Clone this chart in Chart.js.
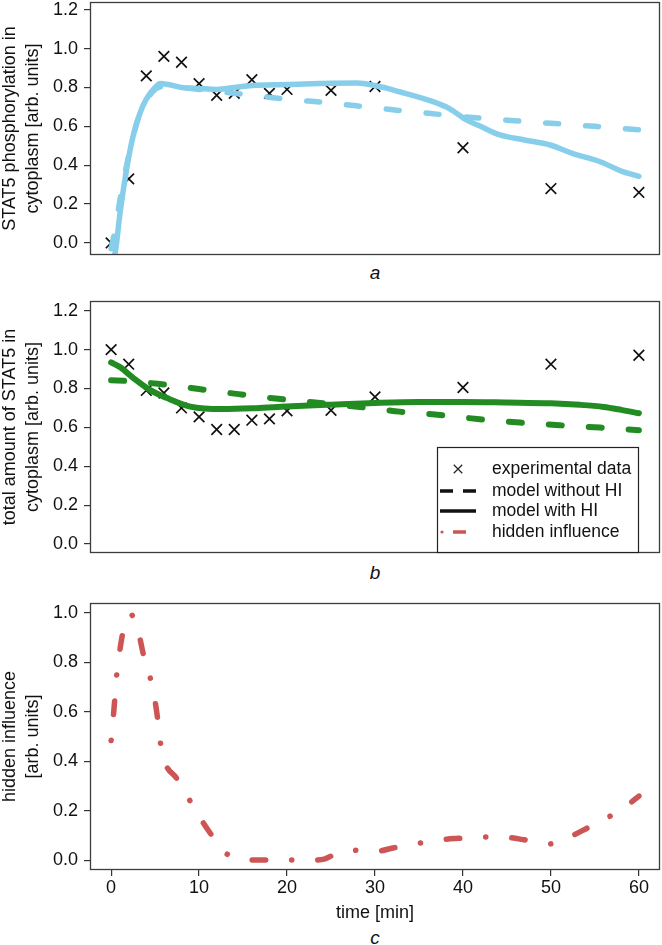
<!DOCTYPE html>
<html>
<head>
<meta charset="utf-8">
<script src="https://cdn.jsdelivr.net/npm/chart.js@4.4.1/dist/chart.umd.min.js"></script>
<style>
  body { margin: 0; background: #fff; width: 662px; height: 945px; position: relative; overflow: hidden;
         font-family: "Liberation Sans", Arial, sans-serif; }
  canvas { position: absolute; left: 0; }
  .cap { position: absolute; left: 325px; width: 100px; text-align: center; font-style: italic;
         font-size: 19px; line-height: 20px; color: #111; }
</style>
</head>
<body>
<canvas id="chartA" width="662" height="258" style="top:0"></canvas>
<div class="cap" style="top:263px">a</div>
<canvas id="chartB" width="662" height="266" style="top:290px"></canvas>
<div class="cap" style="top:563px">b</div>
<canvas id="chartC" width="662" height="335" style="top:590px"></canvas>
<div class="cap" style="top:928px">c</div>
<script>
// experimental time points [min]
const expTimes = [0, 2, 4, 6, 8, 10, 12, 14, 16, 18, 20, 25, 30, 40, 50, 60];
// a: STAT5 phosphorylation in cytoplasm
const phosExp = [0.0, 0.33, 0.86, 0.96, 0.93, 0.82, 0.76, 0.77, 0.84, 0.77, 0.79, 0.785, 0.805, 0.49, 0.28, 0.26];
const phosNoHITimes = [0, 0.5, 1, 2, 3, 4, 5, 6, 8, 10, 12, 14, 16, 20, 25, 30, 35, 40, 45, 50, 55, 60];
const phosNoHI = [-0.03, 0.08, 0.22, 0.45, 0.63, 0.73, 0.79, 0.805, 0.80, 0.79, 0.78, 0.77, 0.76, 0.74, 0.72, 0.695, 0.672, 0.65, 0.632, 0.616, 0.60, 0.582];
const phosHITimes = [0, 0.5, 1, 1.8, 2.5, 3.3, 4, 5, 5.6, 6.5, 8, 10, 12, 14, 16, 20, 25, 28, 30, 32.8, 36.6, 38.5, 40.4, 42, 44.2, 47, 49.9, 52.5, 55.6, 58, 60];
const phosHI = [-0.1, -0.04, 0.15, 0.39, 0.55, 0.67, 0.74, 0.80, 0.82, 0.815, 0.80, 0.795, 0.79, 0.80, 0.81, 0.815, 0.822, 0.823, 0.81, 0.778, 0.727, 0.69, 0.633, 0.60, 0.556, 0.53, 0.504, 0.46, 0.418, 0.37, 0.343];
// b: total amount of STAT5 in cytoplasm
const totExp = [1.0, 0.925, 0.79, 0.777, 0.70, 0.654, 0.589, 0.589, 0.637, 0.644, 0.685, 0.688, 0.757, 0.805, 0.925, 0.971];
const totNoHITimes = [0, 2, 4, 5.3, 8, 10, 14.5, 19, 25, 30, 32.8, 37.4, 41.9, 46.5, 51, 55.6, 60];
const totNoHI = [0.842, 0.838, 0.83, 0.824, 0.81, 0.797, 0.771, 0.747, 0.72, 0.696, 0.681, 0.664, 0.642, 0.625, 0.611, 0.599, 0.585];
const totHITimes = [0, 1, 2.5, 4.4, 6.3, 9, 12.7, 16.5, 19.9, 25, 30, 35, 40, 45, 50, 53.3, 56, 58, 60];
const totHI = [0.934, 0.91, 0.855, 0.793, 0.752, 0.707, 0.694, 0.699, 0.707, 0.717, 0.726, 0.731, 0.731, 0.728, 0.724, 0.716, 0.705, 0.69, 0.673];
// c: hidden influence
const hiTimes = [0, 0.3, 0.64, 1.0, 1.4, 2.2, 3.2, 3.7, 4.35, 4.9, 5.25, 5.5, 6.1, 7.4, 8.75, 10.1, 11.35, 12.95, 14, 15.2, 17.5, 20, 22.8, 24.2, 25, 27.4, 30, 32.2, 34.8, 37.4, 39.6, 42.2, 44.9, 47, 49.7, 52.3, 54.2, 56.6, 58.8, 60];
const hiValues = [0.484, 0.60, 0.75, 0.85, 0.93, 0.995, 0.907, 0.827, 0.751, 0.662, 0.582, 0.50, 0.398, 0.333, 0.253, 0.172, 0.105, 0.031, 0.01, 0.002, 0, 0, 0, 0.004, 0.016, 0.04, 0.035, 0.05, 0.067, 0.082, 0.088, 0.093, 0.092, 0.082, 0.065, 0.097, 0.131, 0.175, 0.225, 0.259];

const timeTicks = [0, 10, 20, 30, 40, 50, 60];
const yTicksAB = [0, 0.2, 0.4, 0.6, 0.8, 1.0, 1.2];
const yTicksC = [0, 0.2, 0.4, 0.6, 0.8, 1.0];
const legendLabels = ['experimental data', 'model without HI', 'model with HI', 'hidden influence'];

const BLUE = '#87ceeb', GREEN = '#228b22', RED = '#cd5555';
const DASH = [13, 27];
const DOTDASH = [0.1, 26, 13.5, 26];

Chart.defaults.font.family = '"Liberation Sans", Arial, sans-serif';
Chart.defaults.font.size = 18;
Chart.defaults.color = '#111';

const pts = (xs, ys) => xs.map((x, i) => ({ x: x, y: ys[i] }));

function lineSet(xs, ys, color, dash, width) {
  return {
    data: pts(xs, ys), showLine: true, borderColor: color, borderWidth: width,
    borderDash: dash, borderCapStyle: 'round', borderJoinStyle: 'round',
    pointRadius: 0, cubicInterpolationMode: 'monotone', fill: false
  };
}
function expSet(xs, ys) {
  return {
    data: pts(xs, ys), showLine: false, pointStyle: 'crossRot', pointRadius: 7.5,
    pointBorderColor: '#111', pointBackgroundColor: '#111', pointBorderWidth: 1.7
  };
}

// frame round the plot region
const boxPlugin = {
  id: 'frame',
  afterDraw(chart) {
    const a = chart.chartArea, ctx = chart.ctx;
    ctx.save();
    ctx.strokeStyle = '#3c3c3c';
    ctx.lineWidth = 1.3;
    ctx.strokeRect(Math.round(a.left) + 0.5, Math.round(a.top) + 0.5,
      Math.round(a.right - a.left) - 1, Math.round(a.bottom - a.top) - 1);
    ctx.restore();
  }
};

// legend box in panel b
const legendPlugin = {
  id: 'boxLegend',
  afterDraw(chart) {
    const ctx = chart.ctx, a = chart.chartArea;
    const x0 = 437, x1 = 638, y0 = 157, y1 = Math.round(a.bottom) - 1;
    const rows = [179, 201, 221, 242];
    ctx.save();
    ctx.fillStyle = '#fff';
    ctx.fillRect(x0, y0, x1 - x0, y1 - y0);
    ctx.strokeStyle = '#222';
    ctx.lineWidth = 1.2;
    ctx.strokeRect(x0 + 0.5, y0 + 0.5, x1 - x0, y1 - y0);
    Chart.helpers.drawPoint(ctx, { pointStyle: 'crossRot', radius: 6, borderWidth: 1.4 }, 458, rows[0]);
    ctx.strokeStyle = '#111';
    ctx.lineWidth = 3.5;
    ctx.lineCap = 'butt';
    ctx.setLineDash([13, 10]);
    ctx.beginPath(); ctx.moveTo(440, rows[1]); ctx.lineTo(476, rows[1]); ctx.stroke();
    ctx.setLineDash([]);
    ctx.beginPath(); ctx.moveTo(440, rows[2]); ctx.lineTo(476, rows[2]); ctx.stroke();
    ctx.strokeStyle = RED; ctx.fillStyle = RED;
    ctx.beginPath(); ctx.arc(442, rows[3], 1.6, 0, Math.PI * 2); ctx.fill();
    ctx.beginPath(); ctx.moveTo(453, rows[3]); ctx.lineTo(466, rows[3]); ctx.stroke();
    ctx.fillStyle = '#111';
    ctx.font = '17.5px "Liberation Sans", Arial, sans-serif';
    ctx.textBaseline = 'middle';
    legendLabels.forEach((t, i) => ctx.fillText(t, 492, rows[i]));
    ctx.restore();
  }
};

function panelOptions(p) {
  return {
    responsive: false, devicePixelRatio: 1, animation: false, events: [],
    layout: { autoPadding: false, padding: { left: 0, right: 2, top: p.top, bottom: p.bottom } },
    plugins: { legend: { display: false }, tooltip: { enabled: false } },
    scales: {
      x: {
        type: 'linear', min: -2.4, max: 62.4, display: p.showX, position: 'bottom',
        afterBuildTicks: s => { s.ticks = timeTicks.map(v => ({ value: v })); },
        afterFit: s => {
          s.height = p.showX ? 55 : 0;
          s.paddingLeft = 0; s.paddingRight = 0; s.paddingTop = 0; s.paddingBottom = 0;
        },
        grid: { drawOnChartArea: false, drawTicks: true, tickLength: 6, color: '#333', lineWidth: 1.2 },
        border: { display: false },
        ticks: { padding: 1, maxRotation: 0, autoSkip: false, color: '#111', callback: v => String(v) },
        title: { display: true, text: 'time [min]', color: '#111', font: { size: 18 }, padding: { top: 0, bottom: 1 } }
      },
      y: {
        type: 'linear', min: p.yMin, max: p.yMax,
        afterBuildTicks: s => { s.ticks = p.yTicks.map(v => ({ value: v })); },
        afterFit: s => { s.width = 90; s.paddingTop = 0; s.paddingBottom = 0; s.paddingLeft = 0; s.paddingRight = 0; },
        grid: { drawOnChartArea: false, drawTicks: true, tickLength: 6, color: '#333', lineWidth: 1.2 },
        border: { display: false },
        ticks: { padding: 6, autoSkip: false, color: '#111', callback: v => v.toFixed(1) },
        title: { display: true, text: p.yTitle, color: '#111', font: { size: 18, lineHeight: 1.3 }, padding: { top: -2, bottom: 0 } }
      }
    }
  };
}

new Chart(document.getElementById('chartA'), {
  type: 'scatter',
  data: { datasets: [
    lineSet(phosNoHITimes, phosNoHI, BLUE, DASH, 5.5),
    lineSet(phosHITimes, phosHI, BLUE, [], 5.5),
    expSet(expTimes, phosExp)
  ] },
  options: panelOptions({ top: 2, bottom: 3, showX: false, yMin: -0.062, yMax: 1.24, yTicks: yTicksAB,
    yTitle: ['STAT5 phosphorylation in', 'cytoplasm [arb. units]'] }),
  plugins: [boxPlugin]
});

new Chart(document.getElementById('chartB'), {
  type: 'scatter',
  data: { datasets: [
    lineSet(totNoHITimes, totNoHI, GREEN, DASH, 6),
    lineSet(totHITimes, totHI, GREEN, [], 6),
    expSet(expTimes, totExp)
  ] },
  options: panelOptions({ top: 11, bottom: 3, showX: false, yMin: -0.046, yMax: 1.25, yTicks: yTicksAB,
    yTitle: ['total amount of STAT5 in', 'cytoplasm [arb. units]'] }),
  plugins: [boxPlugin, legendPlugin]
});

new Chart(document.getElementById('chartC'), {
  type: 'scatter',
  data: { datasets: [
    lineSet(hiTimes, hiValues, RED, DOTDASH, 5.5)
  ] },
  options: panelOptions({ top: 13, bottom: 0, showX: true, yMin: -0.04, yMax: 1.04, yTicks: yTicksC,
    yTitle: ['hidden influence', '[arb. units]'] }),
  plugins: [boxPlugin]
});
</script>
</body>
</html>
